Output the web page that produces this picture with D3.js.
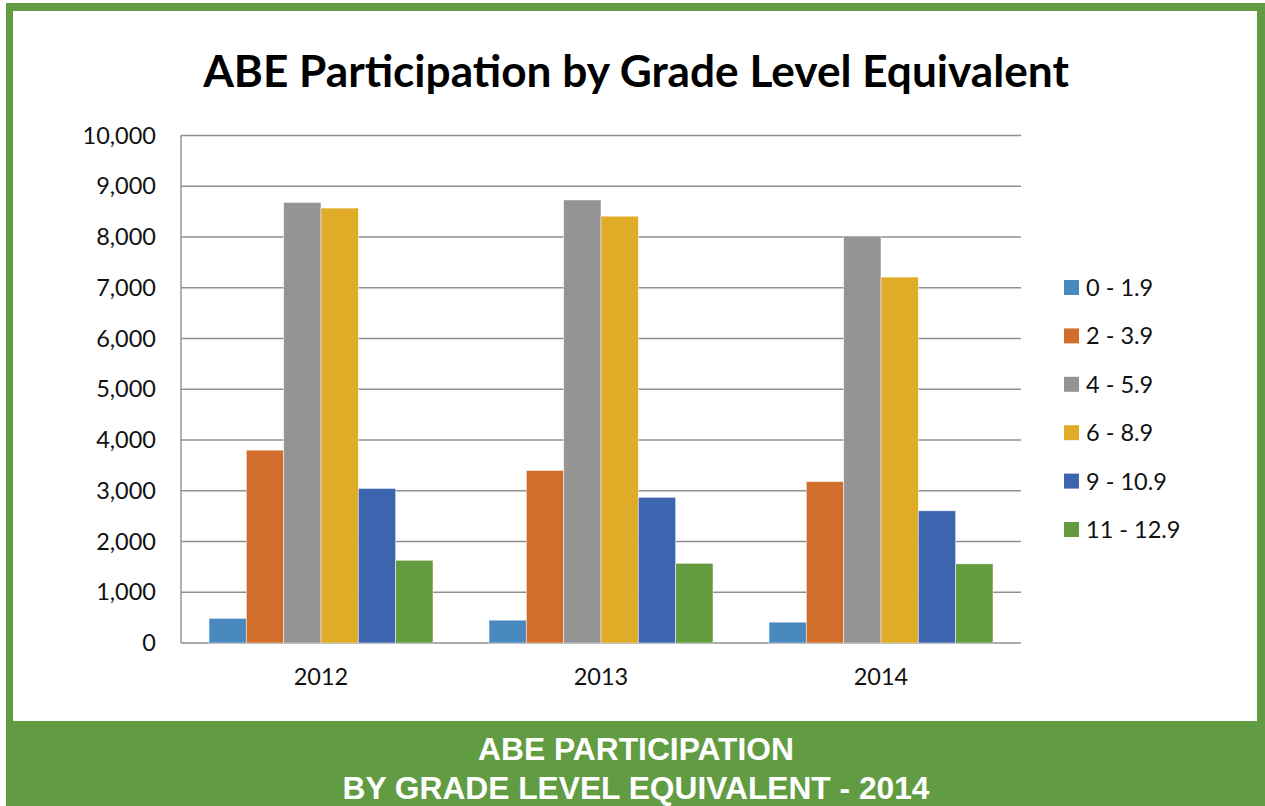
<!DOCTYPE html>
<html>
<head>
<meta charset="utf-8">
<script src="https://cdn.jsdelivr.net/npm/d3@7"></script>
<style>
  body { margin: 0; background: #fff; }
  svg { display: block; }
</style>
</head>
<body>
<div id="viz"></div>
<script>
// years on the x axis, one group of bars each
const years = ["2012", "2013", "2014"]

// grade level bands (legend order)
const levels = ["0 - 1.9", "2 - 3.9", "4 - 5.9", "6 - 8.9", "9 - 10.9", "11 - 12.9"]
const levelColors = ["#4a89c0", "#d26e2b", "#949494", "#e0ab27", "#3b66af", "#639b41"]

// participants per band, 2012 / 2013 / 2014
const grade0to1 = [485, 450, 410]
const grade2to3 = [3800, 3400, 3180]
const grade4to5 = [8680, 8730, 8020]
const grade6to8 = [8570, 8410, 7210]
const grade9to10 = [3045, 2870, 2605]
const grade11to12 = [1630, 1570, 1560]

const yTicks = [0, 1000, 2000, 3000, 4000, 5000, 6000, 7000, 8000, 9000, 10000]

const title = "ABE Participation by Grade Level Equivalent"
const banner = ["ABE PARTICIPATION", "BY GRADE LEVEL EQUIVALENT - 2014"]

const seriesValues = [grade0to1, grade2to3, grade4to5, grade6to8, grade9to10, grade11to12]
const rows = years.map((yr, i) => ({
  year: yr,
  bars: levels.map((lv, j) => ({ level: lv, value: seriesValues[j][i] }))
}))

const width = 1265
const height = 806
const green = "#629c42"
const font = "Lato, 'Open Sans', sans-serif"
const labelSize = 23.5

const svg = d3.select("#viz").append("svg")
  .attr("width", width)
  .attr("height", height)

// green frame and banner
svg.append("rect")
  .attr("x", 6).attr("y", 3)
  .attr("width", width - 6).attr("height", height - 3)
  .attr("fill", green)
svg.append("rect")
  .attr("x", 13).attr("y", 11)
  .attr("width", 1257 - 13).attr("height", 721 - 11)
  .attr("fill", "#fff")

// fit a text to a given width by scaling its font size
function fitWidth(sel, w) {
  const size = +sel.attr("font-size")
  const cur = sel.node().getComputedTextLength()
  sel.attr("font-size", size * w / cur)
}

const t = svg.append("text")
  .attr("x", 636).attr("y", 87)
  .attr("text-anchor", "middle")
  .attr("font-family", font)
  .attr("font-weight", "bold")
  .attr("font-size", 40)
  .attr("fill", "#000")
  .text(title)
fitWidth(t, 866)

const bannerY = [760, 799]
const bannerW = [316, 587]
banner.forEach((line, i) => {
  const b = svg.append("text")
    .attr("x", 636).attr("y", bannerY[i])
    .attr("text-anchor", "middle")
    .attr("font-family", "'Liberation Sans', Arial, sans-serif")
    .attr("font-weight", "bold")
    .attr("font-size", 30)
    .attr("fill", "#fff")
    .text(line)
  fitWidth(b, bannerW[i])
})

// plot area
const plotLeft = 181, plotRight = 1021, plotTop = 135.5, plotBottom = 643

const x0 = d3.scaleBand().domain(years).range([plotLeft, plotRight]).padding(0)
const x1 = d3.scaleBand().domain(levels).range([0, x0.bandwidth()])
  .paddingInner(0).paddingOuter(0.75)
const y = d3.scaleLinear().domain([0, 10000]).range([plotBottom, plotTop])
const color = d3.scaleOrdinal().domain(levels).range(levelColors)

// grid lines
svg.append("g")
  .selectAll("line")
  .data(yTicks)
  .join("line")
  .attr("x1", plotLeft).attr("x2", plotRight)
  .attr("y1", d => y(d)).attr("y2", d => y(d))
  .attr("stroke", "#8f8f8f")
  .attr("stroke-width", 1.4)

svg.append("line")
  .attr("x1", plotLeft).attr("x2", plotLeft)
  .attr("y1", y(10000)).attr("y2", y(0))
  .attr("stroke", "#8f8f8f")
  .attr("stroke-width", 1.4)

// bars
svg.append("g")
  .selectAll("g")
  .data(rows)
  .join("g")
  .attr("transform", d => `translate(${x0(d.year)},0)`)
  .selectAll("rect")
  .data(d => d.bars)
  .join("rect")
  .attr("x", d => x1(d.level))
  .attr("width", x1.bandwidth())
  .attr("y", d => y(d.value))
  .attr("height", d => y(0) - y(d.value))
  .attr("fill", d => color(d.level))
  .attr("stroke", "#fff")
  .attr("stroke-opacity", 0.6)
  .attr("stroke-width", 0.8)

// y axis labels
const yAxis = svg.append("g")
  .attr("transform", `translate(${plotLeft},0)`)
  .call(d3.axisLeft(y).tickValues(yTicks).tickFormat(d3.format(",")).tickSize(0).tickPadding(25))
yAxis.select(".domain").remove()
yAxis.selectAll("text")
  .attr("font-family", font)
  .attr("font-size", labelSize)
  .attr("fill", "#111")

// x axis labels
const xAxis = svg.append("g")
  .attr("transform", `translate(0,${plotBottom})`)
  .call(d3.axisBottom(x0).tickSize(0).tickPadding(25))
xAxis.select(".domain").remove()
xAxis.selectAll("text")
  .attr("font-family", font)
  .attr("font-size", labelSize)
  .attr("fill", "#111")

// legend
const legend = svg.append("g")
  .selectAll("g")
  .data(levels)
  .join("g")
  .attr("transform", (d, i) => `translate(1064,${280 + i * 48.4})`)
legend.append("rect")
  .attr("width", 15).attr("height", 15)
  .attr("fill", d => color(d))
legend.append("text")
  .attr("x", 22).attr("y", 7.5)
  .attr("dy", "0.36em")
  .attr("font-family", font)
  .attr("font-size", labelSize)
  .attr("fill", "#111")
  .text(d => d)
</script>
</body>
</html>
